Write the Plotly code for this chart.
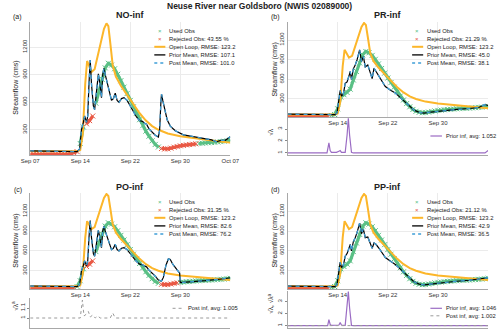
import numpy as np
import plotly.graph_objects as go

W, H = 500, 330

# time axis in days from the left edge; "Sep 14" sits at day 8
tick_days = [0, 8, 16, 24, 32]
tick_text = ['Sep 07', 'Sep 14', 'Sep 22', 'Sep 30', 'Oct 07']

# observed streamflow (cms), every half day
obs_day = np.arange(0, 32.5, 0.5)
obs_flow = [30, 30, 29, 29, 28, 28, 28, 28, 29, 30, 31, 33,
            35, 40, 48, 62,
            150, 330, 365, 400, 450, 590, 720, 850, 975, 1025, 1005, 965,
            905, 835, 765, 695, 620, 550, 480, 410, 345, 285, 230, 180,
            140, 112, 96, 90, 92, 100, 110, 118, 125, 130, 135, 139,
            143, 147, 150, 153, 156, 158, 161, 164, 167, 171, 175, 180, 185]

# rejected observation windows (days) for each experiment
rej_a = [(0, 7.6), (8.6, 10.2), (20.6, 26.5)]
rej_b = [(0, 6.6)]
rej_c = [(0, 7.3), (9.0, 10.2), (21.0, 23.6)]
rej_d = [(0, 6.5)]

# open loop
ol_day = [0, 7.5, 8.0, 8.4, 8.8, 9.1, 9.4, 9.8, 10.3, 10.8, 11.3, 11.8, 12.2, 12.5,
          12.8, 13.2, 13.7, 14.5, 15.5, 16.5, 17.5, 18.5, 19.5, 20.5, 22, 24, 26,
          28, 30, 32]
ol_flow = [65, 65, 80, 250, 800, 1050, 1000, 930, 960, 1100, 1250, 1400, 1460, 1430,
           1250, 1000, 880, 780, 680, 580, 480, 400, 340, 300, 260, 230, 210,
           190, 175, 160]

# prior mean, NO-inf
pa_day = [0, 7.0, 7.5, 7.9, 8.2, 8.5, 8.7, 9.0, 9.2, 9.4, 9.6, 9.8, 10.1, 10.3,
          10.6, 10.9, 11.1, 11.4, 11.6, 11.8, 12.0, 12.3, 12.6, 13.0, 13.3, 13.6,
          13.9, 14.2, 14.6, 15.0, 15.5, 16.3, 17.0, 17.5, 18.0, 18.3, 18.6, 19.0,
          19.5, 20.0, 20.5, 20.7, 20.9, 21.0, 21.2, 21.5, 21.9, 22.4, 23.2, 24.5,
          26.0, 27.5, 29.0, 29.8, 30.5, 31.2, 32]
pa_flow = [70, 70, 62, 90, 300, 380, 450, 380, 450, 800, 1060, 800, 560, 520,
           700, 910, 820, 650, 900, 970, 900, 820, 720, 620, 640, 700,
           620, 600, 640, 650, 620, 520, 440, 400, 390, 370, 360, 310,
           270, 240, 220, 300, 600, 690, 620, 520, 410, 340, 290, 245,
           225, 210, 190, 170, 185, 185, 225]

# prior mean, PO-inf (same start as NO-inf)
pc_day = pa_day[:39] + [20.0, 20.5, 21.0, 21.3, 21.7, 22.1, 22.4, 22.8, 23.3, 23.9,
                        24.0, 25, 26, 27, 28, 29, 30, 31, 32]
pc_flow = pa_flow[:39] + [220, 160, 145, 200, 380, 480, 470, 400, 330, 265,
                          120, 125, 135, 145, 152, 158, 165, 180, 195]

# prior mean, PR-inf
pb_day = [0, 7.2, 7.6, 7.9, 8.2, 8.4, 8.6, 8.9, 9.2, 9.5, 9.8, 10.0, 10.2, 10.5,
          10.8, 11.1, 11.5, 11.8, 12.1, 12.4, 12.8, 13.2, 13.5, 13.8, 14.1, 14.6,
          15.6, 16.5, 17.2, 18.0, 18.7, 19.5, 20.2, 21.0, 21.8, 22.5, 23.8, 25,
          27, 29, 30.5, 31.5, 32]
pb_flow = [68, 68, 62, 90, 330, 430, 350, 370, 540, 560, 650, 720, 600, 760,
           820, 900, 1050, 870, 950, 790, 820, 690, 610, 770, 720, 640,
           490, 430, 390, 320, 260, 190, 130, 95, 85, 95, 110, 125,
           140, 155, 170, 215, 200]

# prior mean, PP-inf
pd_day = pb_day
pd_flow = [68, 68, 62, 90, 330, 430, 350, 380, 520, 560, 640, 700, 600, 740,
           800, 880, 1020, 860, 930, 800, 810, 700, 640, 720, 700, 640,
           500, 440, 395, 325, 262, 192, 132, 98, 88, 96, 112, 127,
           142, 157, 172, 190, 195]

# inflation
infb_day = [0, 6.3, 6.6, 6.8, 7.0, 7.8, 8.2, 8.4, 8.6, 9.2, 9.5, 9.7, 9.9, 10.2,
            10.5, 13.0, 13.5, 14.0, 31.5, 32]
infb_val = [1.0, 1.0, 1.85, 1.2, 1.05, 1.05, 1.15, 1.2, 1.05, 1.05, 2.5, 3.9, 2.5,
            1.05, 1.0, 1.0, 1.06, 1.0, 1.0, 1.2]
infc_day = [0, 8.0, 8.35, 8.6, 9.0, 9.3, 9.6, 10.0, 10.4, 10.8, 11.2, 12.8, 13.2,
            13.6, 32]
infc_val = [1.0, 1.0, 1.18, 1.02, 1.04, 1.065, 1.01, 1.03, 1.0, 1.02, 1.0, 1.0,
            1.05, 1.0, 1.0]
infd_day = [0, 6.4, 6.6, 6.8, 7.0, 8.2, 8.4, 8.6, 9.2, 9.5, 9.7, 9.9, 10.2, 10.5, 32]
infd_val = [1.0, 1.0, 1.5, 1.1, 1.02, 1.05, 1.25, 1.05, 1.02, 2.5, 3.85, 2.5,
            1.02, 1.0, 1.0]
infd_post_day = [0, 9.4, 9.7, 10.0, 32]
infd_post_val = [1.0, 1.0, 1.02, 1.0, 1.0]

GREEN = '#52bd7f'
RED = '#e8503a'
ORANGE = '#fcb62a'
BLUE = '#3f9fd8'
PURPLE = '#9b6cc4'
GREY = '#9a9a9a'
FONT = 'Liberation Sans, Arial, sans-serif'


def fx(x):
    return x / W


def fy(y):
    return 1 - y / H


fig = go.Figure()
annos = []
shapes = []


def text(x, y, s, size=6, bold=False, angle=0, anchor='center', color='#222'):
    if bold:
        s = '<b>' + s + '</b>'
    annos.append(dict(x=fx(x), y=fy(y), xref='paper', yref='paper', text=s,
                      showarrow=False, xanchor=anchor, yanchor='middle',
                      textangle=angle, font=dict(size=size, color=color, family=FONT)))


def sample_line(x0, x1, y, color, width, dash='solid'):
    shapes.append(dict(type='line', xref='paper', yref='paper', x0=fx(x0), x1=fx(x1),
                       y0=fy(y), y1=fy(y), line=dict(color=color, width=width, dash=dash)))


def axis_name(n):
    return ('x', 'y') if n == 1 else (f'x{n}', f'y{n}')


def obs_band(day, flow, keep, color, xa, ya):
    # observations as a dense band: x markers over a same-colour stroke,
    # broken wherever the points are not kept
    d = np.where(keep, day, np.nan)
    f = np.where(keep, flow, np.nan)
    fig.add_trace(go.Scatter(x=d, y=f, mode='lines+markers', xaxis=xa, yaxis=ya,
                             connectgaps=False, opacity=0.95,
                             line=dict(color=color, width=3.2),
                             marker=dict(symbol='x-thin', size=5,
                                         line=dict(width=1, color=color))))


def main_panel(n, left, right, top, bottom, prior_d, prior_f, rej, labels, all_ticks):
    xa, ya = axis_name(n)
    day = np.array(obs_day)
    flow = np.array(obs_flow, float)
    bad = np.zeros(len(day), bool)
    for a, b in rej:
        bad |= (day >= a) & (day <= b)
    obs_band(day, flow, ~bad, GREEN, xa, ya)
    obs_band(day, flow, bad, RED, xa, ya)
    fig.add_trace(go.Scatter(x=ol_day, y=ol_flow, mode='lines', xaxis=xa, yaxis=ya,
                             line=dict(color=ORANGE, width=2)))
    fig.add_trace(go.Scatter(x=prior_d, y=prior_f, mode='lines', xaxis=xa, yaxis=ya,
                             line=dict(color='black', width=1.2)))
    fig.add_trace(go.Scatter(x=prior_d, y=prior_f, mode='lines', xaxis=xa, yaxis=ya,
                             line=dict(color=BLUE, width=1.3, dash='4px,4px')))
    tv = tick_days if all_ticks else tick_days[1:4]
    tt = tick_text if all_ticks else tick_text[1:4]
    fig.update_layout(**{
        ('xaxis' if n == 1 else f'xaxis{n}'): dict(
            domain=[fx(left), fx(right)], anchor=ya, range=[0, 32],
            tickvals=tv, ticktext=tt, showgrid=True, gridcolor='#ebebeb', gridwidth=0.8,
            showline=True, linecolor='#a8a8a8', linewidth=0.8, ticks='', zeroline=False,
            tickfont=dict(size=6, color='#333', family=FONT)),
        ('yaxis' if n == 1 else f'yaxis{n}'): dict(
            domain=[fy(bottom), fy(top)], anchor=xa, range=[25, 1475],
            tickvals=[300, 600, 900, 1200], tickangle=-90, showgrid=True,
            gridcolor='#ebebeb', gridwidth=0.8, showline=True, linecolor='#a8a8a8',
            linewidth=0.8, ticks='', zeroline=False,
            tickfont=dict(size=6, color='#333', family=FONT)),
    })
    # legend drawn by hand to get compact rows
    lx0 = right - 79
    tx = right - 66
    ly = top + 8.6
    step = 8.1
    text((lx0 + tx) / 2 - 1, ly, '×', size=6, color=GREEN)
    text((lx0 + tx) / 2 - 1, ly + step, '×', size=6, color=RED)
    sample_line(lx0, tx - 1.5, ly + 2 * step, ORANGE, 2)
    sample_line(lx0, tx - 1.5, ly + 3 * step, 'black', 1.3)
    sample_line(lx0, tx - 1.5, ly + 4 * step, BLUE, 1.3, '3px,3px')
    for i, s in enumerate(labels):
        text(tx, ly + i * step, s, size=5.8, anchor='left')


def inf_panel(n, left, right, top, bottom, rng, tv, tt, series):
    xa, ya = axis_name(n)
    for d, v, color, dash, width in series:
        fig.add_trace(go.Scatter(x=d, y=v, mode='lines', xaxis=xa, yaxis=ya,
                                 line=dict(color=color, width=width, dash=dash)))
    fig.update_layout(**{
        f'xaxis{n}': dict(domain=[fx(left), fx(right)], anchor=ya, range=[0, 32],
                          showticklabels=False, showgrid=False, showline=True,
                          linecolor='#a8a8a8', linewidth=0.8, zeroline=False),
        f'yaxis{n}': dict(domain=[fy(bottom), fy(top)], anchor=xa, range=rng,
                          tickvals=tv, ticktext=tt, tickangle=-90, showgrid=False,
                          showline=True, linecolor='#a8a8a8', linewidth=0.8,
                          ticks='outside', ticklen=2, tickcolor='#888', zeroline=False,
                          tickfont=dict(size=6, color='#333', family=FONT)),
    })


L1, R1, L2, R2 = 21, 229, 288.5, 497

main_panel(1, L1, R1, 22, 155, pa_day, pa_flow, rej_a,
           ['Used Obs', 'Rejected Obs: 43.55 %', 'Open Loop, RMSE: 123.2',
            'Prior Mean, RMSE: 107.1', 'Post Mean, RMSE: 101.0'], True)
main_panel(2, L2, R2, 22, 117, pb_day, pb_flow, rej_b,
           ['Used Obs', 'Rejected Obs: 21.29 %', 'Open Loop, RMSE: 123.2',
            'Prior Mean, RMSE: 45.0', 'Post Mean, RMSE: 38.1'], False)
inf_panel(3, L2, R2, 118, 155, [0.83, 3.92], [1, 2, 3], ['1', '2', '3'],
          [(infb_day, infb_val, PURPLE, 'solid', 1.2)])
main_panel(4, L1, R1, 193, 289, pc_day, pc_flow, rej_c,
           ['Used Obs', 'Rejected Obs: 31.35 %', 'Open Loop, RMSE: 123.2',
            'Prior Mean, RMSE: 82.6', 'Post Mean, RMSE: 76.2'], False)
inf_panel(5, L1, R1, 298, 328, [0.9, 1.2], [1, 1.1], ['1', '1.1'],
          [(infc_day, infc_val, GREY, '3px,3px', 1.0)])
main_panel(6, L2, R2, 193, 289, pd_day, pd_flow, rej_d,
           ['Used Obs', 'Rejected Obs: 21.12 %', 'Open Loop, RMSE: 123.2',
            'Prior Mean, RMSE: 42.9', 'Post Mean, RMSE: 36.5'], False)
inf_panel(7, L2, R2, 291, 328, [0.8, 3.9], [1, 2, 3], ['1', '2', '3'],
          [(infd_day, infd_val, PURPLE, 'solid', 1.2),
           (infd_post_day, infd_post_val, GREY, '3px,3px', 1.0)])

# inflation legends
sample_line(437, 449, 136, PURPLE, 1.2)
text(451, 136, 'Prior inf, avg: 1.052', size=5.8, anchor='left')
sample_line(169, 180.5, 308.3, GREY, 1.0, '3px,3px')
text(182.5, 308.3, 'Post inf, avg: 1.005', size=5.8, anchor='left')
sample_line(437, 449, 308.3, PURPLE, 1.2)
text(450.7, 308.3, 'Prior inf, avg: 1.046', size=5.8, anchor='left')
sample_line(437, 449, 315.8, GREY, 1.0, '3px,3px')
text(450.7, 315.8, 'Post inf, avg: 1.002', size=5.8, anchor='left')

# titles and labels
text(259, 6.5, 'Neuse River near Goldsboro (NWIS 02089000)', size=8.5, bold=True)
text(125, 15, 'NO-inf', size=9, bold=True)
text(392.7, 15, 'PR-inf', size=9, bold=True)
text(125, 187, 'PO-inf', size=9, bold=True)
text(392.7, 187, 'PP-inf', size=9, bold=True)
text(8, 16.7, '(a)', size=7)
text(276, 16.7, '(b)', size=7)
text(8, 190, '(c)', size=7)
text(276, 190, '(d)', size=7)
text(6, 88, 'Streamflow (cms)', size=7, angle=-90)
text(275, 70, 'Streamflow (cms)', size=7, angle=-90)
text(6, 241, 'Streamflow (cms)', size=7, angle=-90)
text(275, 241, 'Streamflow (cms)', size=7, angle=-90)
text(270, 132, '√λ', size=6.5, angle=-90)
text(5, 306, '√λ<sup>a</sup>', size=6.5, angle=-90)
text(271, 304, '√λ, √λ<sup>a</sup>', size=6.5, angle=-90)

fig.update_layout(width=W, height=H, margin=dict(l=0, r=0, t=0, b=0),
                  paper_bgcolor='white', plot_bgcolor='white', showlegend=False,
                  annotations=annos, shapes=shapes, font=dict(family=FONT))

fig.write_html('out.html', config={'displayModeBar': False},
               post_script="document.body.style.margin='0';"
                           "document.body.style.overflow='hidden';")
